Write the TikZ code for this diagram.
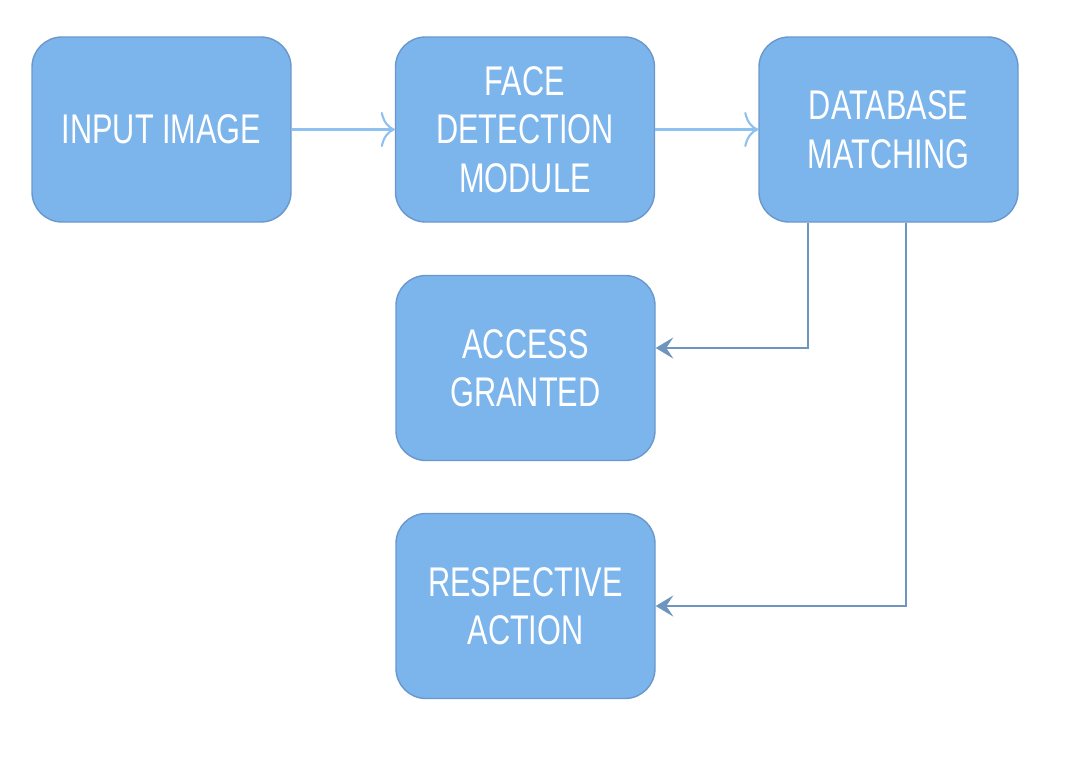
\documentclass[tikz,border=0pt]{standalone}
\usepackage{fontspec}
\setmainfont{Liberation Sans}[FakeStretch=0.74]
\usetikzlibrary{arrows.meta}
\definecolor{boxfill}{HTML}{7CB4EC}
\definecolor{boxline}{HTML}{6A98CC}
\definecolor{lightline}{HTML}{8EC0F0}
\definecolor{darkline}{HTML}{6E94C0}
\tikzset{
	stage/.style={draw=boxline,fill=boxfill,rounded corners=0.3cm,minimum width=2.59cm,minimum height=1.85cm,
		text=white,align=center,font=\fontsize{11.8}{13.8}\selectfont,inner sep=0pt},
	flow/.style={lightline,semithick,-{To[length=4pt,width=10pt]}},
	branch/.style={darkline,thin,-{Stealth[length=5pt,width=6pt,inset=2pt]}}
}
\begin{document}
\begin{tikzpicture}
			\useasboundingbox (0,0) rectangle (10.67,-7.73);
			\node[stage] (input) at (1.615,-1.295) {INPUT IMAGE};
			\node[stage] (detect) at (5.25,-1.295) {FACE\\DETECTION\\MODULE};
			\node[stage] (match) at (8.885,-1.295) {DATABASE\\MATCHING};
			\node[stage] (granted) at (5.255,-3.68) {ACCESS\\GRANTED};
			\node[stage] (action) at (5.255,-6.06) {RESPECTIVE\\ACTION};
			\draw[flow] (input) -- (detect);
			\draw[flow] (detect) -- (match);
			\draw[branch] (match.south -| 8.08,0) |- ([yshift=2mm]granted.east);
			\draw[branch] (match.south -| 9.06,0) |- (action.east);
	\end{tikzpicture}
\end{document}
